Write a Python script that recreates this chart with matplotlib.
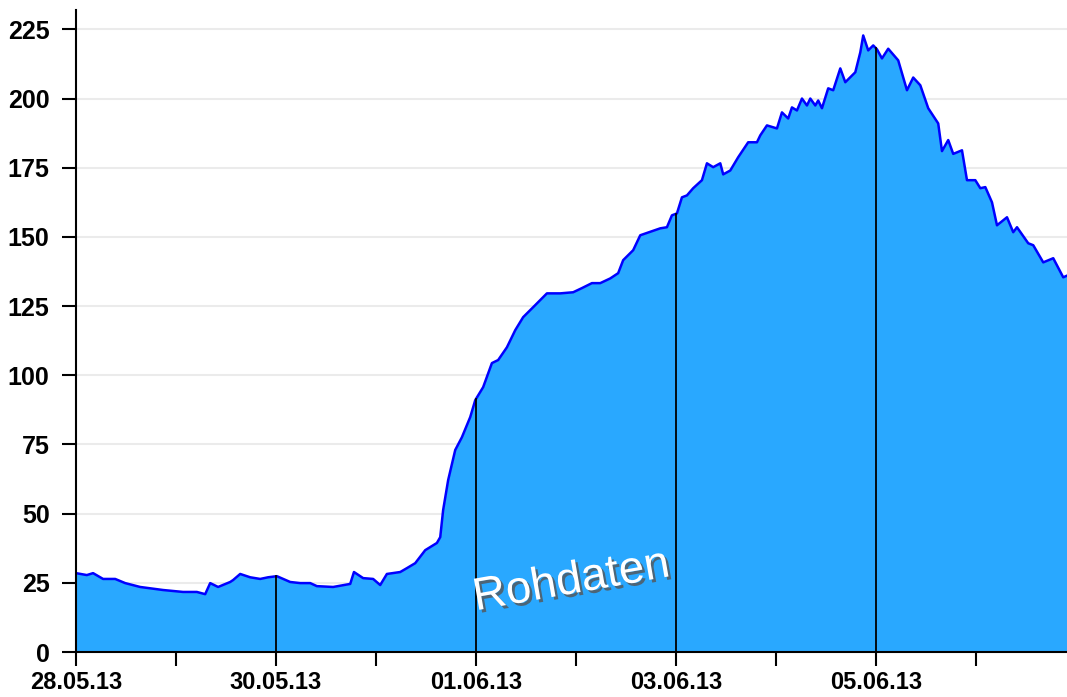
import numpy as np
import matplotlib.pyplot as plt
import matplotlib.patheffects as pe

plt.rcParams['font.family'] = ['Liberation Sans', 'DejaVu Sans']

# hours since 28.05.13 00:00 and the read-off values
hours = [0.0, 2.6, 4.1, 6.5, 9.4, 11.8, 15.4, 20.9, 25.7, 29.0, 31.0, 32.2,
         34.1, 37.0, 37.7, 39.4, 41.8, 44.2, 46.1, 48.2, 51.4, 53.8, 56.2,
         57.8, 61.7, 65.8, 66.7, 68.9, 71.3, 73.0, 74.6, 77.8, 79.4, 81.4,
         83.8, 86.6, 87.4, 88.1, 89.3, 91.0, 92.6, 94.6, 95.8, 97.7, 99.8,
         101.3, 103.4, 105.4, 107.3, 109.7, 113.0, 116.2, 119.3, 121.4,
         123.8, 125.8, 128.2, 130.1, 131.3, 133.7, 135.4, 140.2, 141.8,
         143.0, 144.2, 145.4, 146.6, 148.1, 150.2, 151.4, 152.9, 154.6,
         155.3, 157.0, 158.9, 161.3, 163.4, 164.2, 165.8, 168.2, 169.4,
         170.9, 171.8, 173.0, 174.2, 175.4, 176.2, 177.4, 178.1, 179.0,
         180.5, 181.7, 183.4, 184.6, 187.0, 188.2, 188.9, 190.1, 191.3,
         192.2, 193.4, 194.9, 197.3, 199.4, 200.9, 202.6, 204.5, 206.9,
         207.8, 209.3, 210.5, 212.6, 213.8, 215.8, 217.0, 218.2, 219.8,
         221.0, 223.4, 224.9, 225.8, 228.5, 229.7, 232.1, 234.5, 236.9, 237.8]
values = [28.5, 27.8, 28.5, 26.4, 26.4, 24.9, 23.5, 22.4, 21.7, 21.7, 20.9, 24.9,
          23.5, 25.3, 26.0, 28.2, 27.0, 26.4, 27.0, 27.4, 25.3, 24.9, 24.9,
          23.8, 23.5, 24.6, 28.9, 26.7, 26.4, 24.2, 28.2, 28.9, 30.3, 32.1,
          36.8, 39.4, 41.5, 51.3, 62.1, 73.0, 77.6, 84.9, 91.0, 95.7, 104.4,
          105.5, 110.1, 116.3, 121.0, 124.6, 129.6, 129.6, 130.0, 131.5,
          133.3, 133.3, 135.0, 136.9, 141.6, 145.2, 150.6, 153.1, 153.5,
          157.8, 158.5, 164.3, 165.0, 167.6, 170.5, 176.6, 175.2, 176.6,
          172.6, 174.0, 178.8, 184.2, 184.2, 186.7, 190.3, 189.2, 195.0,
          192.8, 196.8, 195.7, 200.0, 197.5, 200.0, 197.5, 199.3, 196.5,
          203.7, 203.0, 210.9, 205.9, 209.5, 216.7, 222.8, 217.4, 219.2,
          217.8, 214.5, 218.0, 213.8, 203.0, 207.6, 204.8, 196.5, 191.0,
          181.0, 185.0, 180.0, 181.3, 170.5, 170.5, 167.6, 168.0, 162.5,
          154.2, 157.1, 151.7, 153.5, 147.7, 147.0, 140.8, 142.3, 135.4, 136.0]

tick_hours = [0, 48, 96, 144, 192]
tick_labels = ['28.05.13', '30.05.13', '01.06.13', '03.06.13', '05.06.13']
minor_hours = [24, 72, 120, 168, 216]
y_ticks = [0, 25, 50, 75, 100, 125, 150, 175, 200, 225]

fig = plt.figure(figsize=(10.67, 6.97), dpi=100)
ax = fig.add_axes([76 / 1067, 45 / 697, 1 - 76 / 1067, 642 / 697])

ax.fill_between(hours, values, 0, color='#29a8ff', lw=0, zorder=2)
ax.plot(hours, values, color='#0000ff', lw=1.8, zorder=3)

# black markers at the labelled days
for h in tick_hours[1:]:
    ax.plot([h, h], [0, np.interp(h, hours, values)], color='black', lw=1.3, zorder=4)

ax.set_xlim(0, 237.8)
ax.set_ylim(0, 232)
ax.set_yticks(y_ticks)
ax.set_xticks(tick_hours)
ax.set_xticklabels(tick_labels)
ax.set_xticks(minor_hours, minor=True)
ax.grid(axis='y', color='#ebebeb', lw=1.5, zorder=0)
ax.set_axisbelow(True)

for s in ['top', 'right']:
    ax.spines[s].set_visible(False)
for s in ['left', 'bottom']:
    ax.spines[s].set_linewidth(1.5)
    ax.spines[s].set_zorder(5)

ax.tick_params(axis='both', which='both', length=10, width=1.5, direction='out')
ax.tick_params(axis='y', pad=9)
ax.tick_params(axis='x', pad=4)
for lab in ax.get_yticklabels():
    lab.set_fontsize(18)
    lab.set_fontweight('bold')
for lab in ax.get_xticklabels():
    lab.set_fontsize(17)
    lab.set_fontweight('bold')

ax.text(0.500, 0.11, 'Rohdaten', transform=ax.transAxes, fontsize=33,
        color='white', rotation=10, ha='center', va='center', zorder=6,
        path_effects=[pe.SimplePatchShadow(offset=(2, -2), shadow_rgbFace='#555555', alpha=0.8),
                      pe.Normal()])

fig.savefig('out.png', dpi=100)
